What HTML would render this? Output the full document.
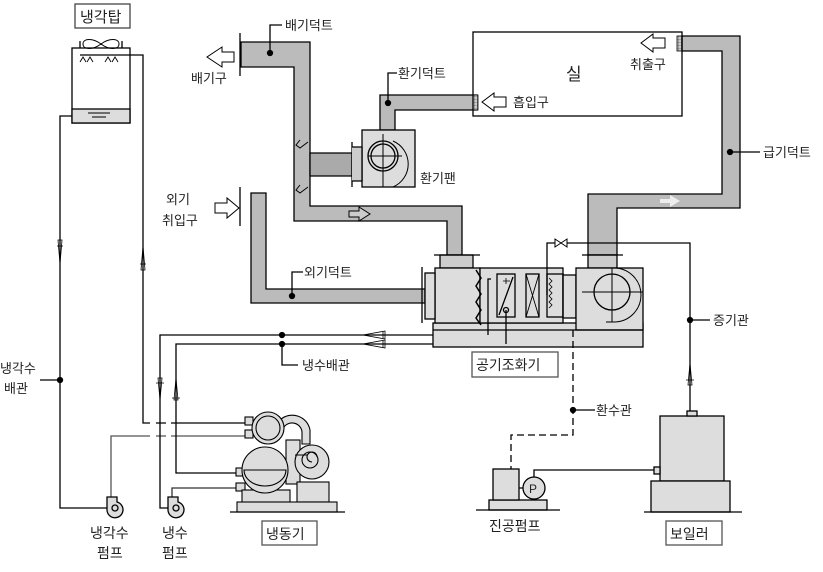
<!DOCTYPE html>
<html><head><meta charset="utf-8"><style>
body{margin:0;background:#fff}
svg text{font-family:"Liberation Sans","Noto Sans CJK KR",sans-serif;font-size:13px;fill:#222}
</style></head><body>
<svg width="823" height="567" viewBox="0 0 823 567" xmlns="http://www.w3.org/2000/svg">
<defs>
<pattern id="g" width="3" height="3" patternUnits="userSpaceOnUse"><rect width="3" height="3" fill="#ccc"/><path d="M0 0H3M0 0V3" stroke="#333" stroke-width="0.6"/></pattern>
</defs>
<g stroke="#000" stroke-width="1.3" fill="none">
<rect x="75" y="4" width="55" height="24" stroke="#444" fill="#fff"/>
<rect x="72" y="48" width="58" height="75" fill="#fff"/>
<rect x="72" y="109" width="58" height="14" fill="#ddd"/>
<path d="M88 113h22M92 117h14" stroke-width="1"/>
<path d="M80 48v-7M122 48v-7"/>
<path d="M101 44c-8-6-18-6-18 0s10 6 18 0c8-6 18-6 18 0s-10 6-18 0z" stroke-width="1"/>
<path d="M80 62l3-5 3 5M87 62l3-5 3 5M105 62l3-5 3 5M112 62l3-5 3 5" stroke-width="0.9"/>
<path d="M80 55H143V423H245"/>
<path d="M72 116H60V508H107"/>
<path d="M111 500V436H245" stroke="#555"/>
<circle cx="60" cy="380" r="2.5" fill="#000"/>
<path d="M40 380H60" />
<path d="M58 240l2 24 2-24zM57 246h6" stroke-width="0.8"/>
<path d="M141 270l2-24 2 24zM140 264h6" stroke-width="0.8"/>
<path d="M433 335H160V508H168"/>
<path d="M433 344H176V473H236"/>
<path d="M172 497V488H236" stroke="#333"/>
<circle cx="282" cy="335" r="2.5" fill="#000"/><circle cx="282" cy="344" r="2.5" fill="#000"/>
<path d="M282 344V365H298"/>
<path d="M158 378l2 22 2-22zM156 383h8M174 400l2-22 2 22zM172 398h8" stroke-width="0.8"/>
<path d="M385 331l-22 4 22 4zM383 331v8M385 340l-22 4 22 4zM383 340v8" stroke-width="0.8"/>
<path d="M150 423h6M166 423h5M150 436h6M166 436h5" stroke="#fff" stroke-width="3"/>
<path d="M107 497h10v5a8 8 0 1 1 -10 8z" fill="#ddd"/><circle cx="115" cy="508" r="3"/>
<path d="M168 497h10v5a8 8 0 1 1 -10 8z" fill="#ddd"/><circle cx="176" cy="508" r="3"/>
<g fill="#ddd" stroke-width="1.1">
<rect x="245" y="417" width="8" height="8"/><rect x="245" y="430" width="8" height="8"/>
<rect x="236" y="468" width="9" height="8"/><rect x="236" y="483" width="9" height="8"/>
<rect x="242" y="490" width="48" height="14"/>
<path d="M280 420a18 18 0 0 1 30 10v14h-8v-12a10 10 0 0 0 -18-5z"/>
<rect x="286" y="440" width="14" height="44"/>
<rect x="297" y="482" width="32" height="20"/>
<circle cx="268" cy="428" r="16"/><circle cx="268" cy="428" r="12" fill="none"/>
<circle cx="265" cy="470" r="23"/>
<path d="M244 470h42a21 16 0 0 1 -42 0z"/>
<circle cx="312" cy="462" r="17"/>
<path d="M312 462a5 5 0 1 1 5 -5 M307 455h-12" fill="none"/>
<circle cx="310" cy="460" r="8" fill="none"/>
<rect x="237" y="502" width="100" height="10"/>
</g>
<path d="M230 512H345"/>
<g fill="#bbb" stroke="#000" stroke-width="1.3">
<path d="M241 42H310V206H462V255H447V221H294V67H241z"/>
<path d="M251 193H266V289H425V303H251z"/>
<path d="M310 153H352V176H310z" fill="#aaa"/>
<path d="M380 95H477V110H395V130H380z"/>
<path d="M682 36H740V208H617V255H588V194H722V51H682z"/>
<rect x="440" y="255" width="33" height="13" fill="#ccc"/>
<rect x="588" y="255" width="29" height="13" fill="#ccc"/>
</g>
<path d="M240 33V76M240 187V226M422 267V323M352 142V187" stroke-width="1.3"/>
<path d="M300 140l-4 5 4 3 4-3 4-3M300 185l-4 5 4 3 4-3 4-3" stroke-width="1"/>
<circle cx="270" cy="53" r="2.5" fill="#000"/><path d="M270 53V25H282"/>
<circle cx="388" cy="103" r="2.5" fill="#000"/><path d="M388 103V73H397"/>
<circle cx="292" cy="296" r="2.5" fill="#000"/><path d="M292 296V272H303"/>
<circle cx="730" cy="152" r="2.5" fill="#000"/><path d="M730 152H760"/>
<rect x="473" y="95" width="5" height="15" fill="url(#g)" stroke-width="0.8"/>
<rect x="677" y="36" width="5" height="15" fill="url(#g)" stroke-width="0.8"/>
<path d="M234 52h-12v-5l-15 10 15 10v-5h12z" stroke-width="1" fill="#fff"/>
<path d="M215 203h12v-5l12 10-12 10v-5h-12z" stroke-width="1" fill="#fff"/>
<path d="M349 211h10v-4l11 7-11 7v-4h-10z" stroke-width="1" fill="#ccc"/>
<path d="M506 97h-12v-4l-12 9 12 9v-4h12z" stroke-width="1" fill="#fff"/>
<path d="M665 38h-12v-4l-12 9 12 9v-4h12z" stroke-width="1" fill="#fff"/>
<path d="M660 199h10v-4l10 6-10 6v-4h-10z" stroke="none" fill="#eee"/>
<rect x="473" y="32" width="209" height="84" fill="none"/>
<rect x="362" y="130" width="53" height="57" fill="#ddd"/>
<path d="M352 147h10v34h-10" fill="#ccc"/>
<circle cx="383" cy="156" r="15"/><circle cx="383" cy="156" r="12"/>
<path d="M368 156h34M383 134V187M383 187h10a25 25 0 0 0 0-46" stroke-width="1"/>
<g fill="#ddd">
<rect x="433" y="323" width="210" height="24"/>
<rect x="435" y="268" width="45" height="55"/>
<rect x="425" y="273" width="10" height="46"/>
<rect x="480" y="268" width="83" height="55"/>
<rect x="563" y="275" width="13" height="43"/>
<rect x="576" y="268" width="67" height="62"/>
</g>
<path d="M433 330H643M434 255H480M582 255H623" />
<path d="M476 270l5 8-5 8 5 8-5 8 5 8-5 8 5 7" stroke-width="1.5"/>
<rect x="497" y="274" width="18" height="43" fill="none"/>
<path d="M499 315l14-38"/><circle cx="506" cy="310" r="2.5"/><path d="M503 281h7M506 278v6" stroke-width="0.8"/>
<rect x="526" y="274" width="13" height="43"/><path d="M526 274l13 43M539 274l-13 43" stroke-width="0.9"/>
<rect x="547" y="274" width="16" height="43"/>
<path d="M549 278l3 3-3 3 3 3-3 3 3 3-3 3 3 3-3 3 3 3-3 3" stroke-width="0.8"/>
<circle cx="612" cy="292" r="18"/><path d="M582 292h61M612 268V322" stroke-width="1"/>
<path d="M606 322h8a27 27 0 0 0 0-54" stroke-width="1"/>
<path d="M506 310V344M491 279H488V335" />
<path d="M547 295V243H555M567 243H690V412"/>
<path d="M555 239l12 8v-8l-12 8z" stroke-width="1"/>
<circle cx="690" cy="320" r="2.5" fill="#000"/><path d="M690 320H710"/>
<path d="M688 385l2-22 2 22zM686 380h8" stroke-width="0.8"/>
<path d="M573 330V435H511V469" stroke-dasharray="7 4"/>
<circle cx="573" cy="410" r="2.5" fill="#000"/><path d="M573 410H595"/>
<rect x="489" y="500" width="58" height="10" fill="#ddd"/>
<rect x="493" y="469" width="26" height="31" fill="#ddd"/>
<circle cx="534" cy="488" r="11" fill="#ddd"/><path d="M519 488h4M534 477V470H654"/>
<path d="M476 510H560"/>
<rect x="660" y="416" width="64" height="65" fill="#ddd"/>
<rect x="687" y="411" width="10" height="5" fill="#ddd"/>
<rect x="654" y="467" width="6" height="7" fill="#ddd"/>
<rect x="651" y="481" width="79" height="31" fill="#ddd"/>
<path d="M644 512H742"/>
<rect x="472" y="352" width="86" height="25" stroke="#555" fill="#fff"/>
<rect x="262" y="521" width="55" height="24" stroke="#555" fill="#fff"/>
<rect x="666" y="521" width="56" height="24" stroke="#555" fill="#fff"/>
</g>
<text x="80" y="22" style="font-size:15px">냉각탑</text>
<text x="285" y="30">배기덕트</text>
<text x="191" y="83">배기구</text>
<text x="398" y="78">환기덕트</text>
<text x="513" y="107">흡입구</text>
<text x="566" y="80" style="font-size:17px">실</text>
<text x="630" y="69">취출구</text>
<text x="420" y="183">환기팬</text>
<text x="166" y="204">외기</text>
<text x="162" y="225">취입구</text>
<text x="304" y="277">외기덕트</text>
<text x="763" y="157">급기덕트</text>
<text x="713" y="325">증기관</text>
<text x="302" y="370">냉수배관</text>
<text x="596" y="415">환수관</text>
<text x="0" y="373">냉각수</text>
<text x="4" y="393">배관</text>
<text x="476" y="370" style="font-size:14px">공기조화기</text>
<text x="266" y="539" style="font-size:14px">냉동기</text>
<text x="670" y="539" style="font-size:14px">보일러</text>
<text x="489" y="531" style="font-size:14px">진공펌프</text>
<text x="90" y="538" style="font-size:14px">냉각수</text>
<text x="97" y="558" style="font-size:14px">펌프</text>
<text x="162" y="538" style="font-size:14px">냉수</text>
<text x="162" y="558" style="font-size:14px">펌프</text>
<text x="529" y="493" style="font-size:12px">P</text>
</svg>
</body></html>
